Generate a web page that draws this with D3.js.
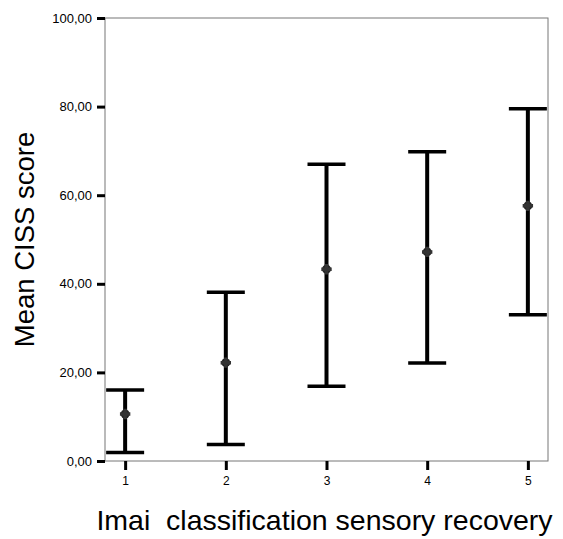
<!DOCTYPE html>
<html>
<head>
<meta charset="utf-8">
<script src="https://cdn.jsdelivr.net/npm/d3@7"></script>
<style>
  body { margin: 0; background: #fff; }
  svg text { font-family: "Liberation Sans", Arial, sans-serif; fill: #000; }
</style>
</head>
<body>
<svg id="chart" width="563" height="539"></svg>
<script>
// Imai classes and the mean CISS score with 95% CI
var groups = ["1", "2", "3", "4", "5"];
var means = [10.6, 22.2, 43.3, 47.2, 57.6];
var lower = [1.9, 3.7, 16.9, 22.1, 33.0];
var upper = [16.0, 38.1, 67.0, 69.8, 79.5];
var yTicks = [0, 20, 40, 60, 80, 100];

var svg = d3.select("#chart");
var plotL = 105, plotR = 548, plotT = 18, plotB = 461;

var x = d3.scalePoint().domain(groups).range([plotL, plotR]).padding(0.2);
var y = d3.scaleLinear().domain([0, 100]).range([plotB, plotT]);

// frame
svg.append("rect")
    .attr("x", plotL).attr("y", plotT)
    .attr("width", plotR - plotL).attr("height", plotB - plotT)
    .attr("fill", "none").attr("stroke", "#777").attr("stroke-width", 1);

// y axis
var fmt = function (d) { return d3.format(".2f")(d).replace(".", ","); };
var yAxis = svg.append("g")
    .attr("transform", "translate(" + plotL + ",0)")
    .call(d3.axisLeft(y).tickValues(yTicks).tickFormat(fmt).tickSize(8).tickPadding(5));
yAxis.select(".domain").remove();
yAxis.selectAll(".tick line").attr("stroke", "#000").attr("stroke-width", 3);
yAxis.selectAll(".tick text").style("font-size", "13px").attr("fill", "#000");

// x axis
var xAxis = svg.append("g")
    .attr("transform", "translate(0," + plotB + ")")
    .call(d3.axisBottom(x).tickSize(9).tickPadding(6));
xAxis.select(".domain").remove();
xAxis.selectAll(".tick line").attr("stroke", "#000").attr("stroke-width", 3);
xAxis.selectAll(".tick text").style("font-size", "12px").attr("fill", "#000");

// error bars
var capHalf = 19;
var bars = svg.append("g").selectAll("g")
    .data(groups)
    .join("g");

bars.append("line")
    .attr("x1", function (d) { return x(d); })
    .attr("x2", function (d) { return x(d); })
    .attr("y1", function (d, i) { return y(lower[i]); })
    .attr("y2", function (d, i) { return y(upper[i]); })
    .attr("stroke", "#000").attr("stroke-width", 4);

bars.append("line")
    .attr("x1", function (d) { return x(d) - capHalf; })
    .attr("x2", function (d) { return x(d) + capHalf; })
    .attr("y1", function (d, i) { return y(upper[i]); })
    .attr("y2", function (d, i) { return y(upper[i]); })
    .attr("stroke", "#000").attr("stroke-width", 3.5);

bars.append("line")
    .attr("x1", function (d) { return x(d) - capHalf; })
    .attr("x2", function (d) { return x(d) + capHalf; })
    .attr("y1", function (d, i) { return y(lower[i]); })
    .attr("y2", function (d, i) { return y(lower[i]); })
    .attr("stroke", "#000").attr("stroke-width", 3.5);

// mean markers
bars.append("circle")
    .attr("cx", function (d) { return x(d); })
    .attr("cy", function (d, i) { return y(means[i]); })
    .attr("r", 4.5)
    .attr("fill", "#222");
bars.append("path")
    .attr("transform", function (d, i) { return "translate(" + x(d) + "," + y(means[i]) + ")"; })
    .attr("d", d3.symbol().type(d3.symbolCross).size(60))
    .attr("fill", "#333");

// titles
svg.append("text")
    .attr("transform", "translate(34," + ((plotT + plotB) / 2) + ") rotate(-90)")
    .attr("text-anchor", "middle")
    .style("font-size", "27.5px")
    .text("Mean CISS score");

svg.append("text")
    .attr("x", (plotL + plotR) / 2 - 2)
    .attr("y", 530)
    .attr("text-anchor", "middle")
    .style("font-size", "28.5px")
    .style("white-space", "pre")
    .attr("xml:space", "preserve")
    .text("Imai  classification sensory recovery");
</script>
</body>
</html>
